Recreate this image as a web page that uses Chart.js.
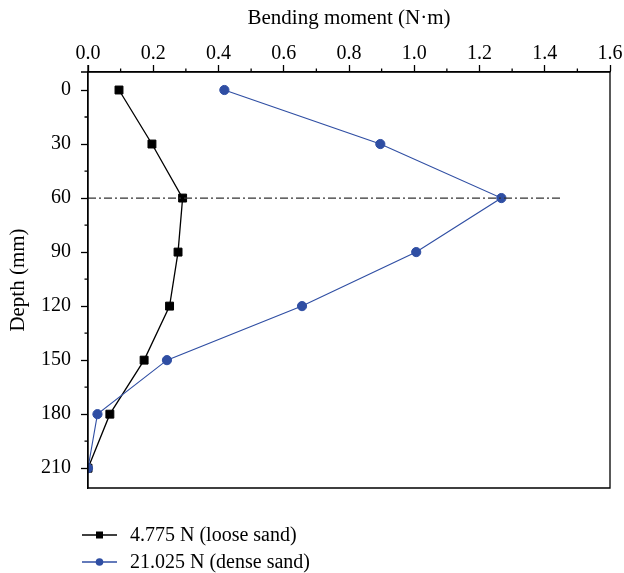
<!DOCTYPE html>
<html>
<head>
<meta charset="utf-8">
<script src="https://cdn.jsdelivr.net/npm/chart.js@4.4.1/dist/chart.umd.min.js"></script>
<style>
  html, body { margin: 0; padding: 0; background: #fff; }
  canvas { display: block; }
</style>
</head>
<body>
<canvas id="chart" width="624" height="573"></canvas>
<script>
// depth (mm) vs bending moment (N·m)
const depths = [0, 30, 60, 90, 120, 150, 180, 210];
const looseMoment = [0.095, 0.196, 0.29, 0.276, 0.25, 0.172, 0.067, 0];
const denseMoment = [0.418, 0.896, 1.267, 1.006, 0.656, 0.242, 0.029, 0];
const refMoment = [0, 1.45];
const refDepth = [60, 60];

const xTicks = [0, 0.2, 0.4, 0.6, 0.8, 1.0, 1.2, 1.4, 1.6];
const yTicks = [0, 30, 60, 90, 120, 150, 180, 210];
const xMinor = [0.1, 0.3, 0.5, 0.7, 0.9, 1.1, 1.3, 1.5];
const yMinor = [15, 45, 75, 105, 135, 165, 195];

const seriesLabels = ["4.775 N (loose sand)", "21.025 N (dense sand)"];
const BLUE = "#2f4ea3";
const FONT = "'Liberation Serif', 'Times New Roman', serif";

const toPoints = (xs, ys) => xs.map((x, i) => ({ x: x, y: ys[i] }));

// frame, minor ticks and legend
const extras = {
  id: "extras",
  afterDraw(chart) {
    const { ctx, chartArea: a, scales } = chart;
    ctx.save();
    ctx.strokeStyle = "#000";
    ctx.lineWidth = 1.3;
    ctx.beginPath();
    ctx.moveTo(a.left - 7, a.top);
    ctx.lineTo(a.right, a.top);
    ctx.lineTo(a.right, a.bottom);
    ctx.lineTo(a.left, a.bottom);
    ctx.moveTo(a.left, a.top - 7);
    ctx.lineTo(a.left, a.bottom);
    xMinor.forEach(v => {
      const px = scales.x.getPixelForValue(v);
      ctx.moveTo(px, a.top);
      ctx.lineTo(px, a.top - 3.5);
    });
    yMinor.forEach(v => {
      const py = scales.y.getPixelForValue(v);
      ctx.moveTo(a.left, py);
      ctx.lineTo(a.left - 3.5, py);
    });
    ctx.stroke();

    // legend
    const rows = [
      { label: seriesLabels[0], color: "#000", shape: "rect", y: 535 },
      { label: seriesLabels[1], color: BLUE, shape: "circle", y: 562 }
    ];
    ctx.font = "20px " + FONT;
    ctx.textBaseline = "middle";
    rows.forEach(r => {
      ctx.strokeStyle = r.color;
      ctx.fillStyle = r.color;
      ctx.lineWidth = 1.4;
      ctx.beginPath();
      ctx.moveTo(82, r.y);
      ctx.lineTo(117, r.y);
      ctx.stroke();
      ctx.beginPath();
      if (r.shape === "rect") ctx.rect(96, r.y - 3.5, 7, 7);
      else ctx.arc(99.5, r.y, 3.8, 0, Math.PI * 2);
      ctx.fill();
      ctx.fillStyle = "#000";
      ctx.fillText(r.label, 130, r.y + 1);
    });
    ctx.restore();
  }
};

new Chart(document.getElementById("chart"), {
  type: "scatter",
  data: {
    datasets: [
      {
        label: "ref",
        data: toPoints(refMoment, refDepth),
        showLine: true,
        borderColor: "#333",
        borderWidth: 1.3,
        borderDash: [8, 3, 2, 3],
        pointRadius: 0
      },
      {
        label: seriesLabels[1],
        data: toPoints(denseMoment, depths),
        showLine: true,
        borderColor: BLUE,
        borderWidth: 1.1,
        backgroundColor: BLUE,
        pointBackgroundColor: BLUE,
        pointBorderColor: BLUE,
        pointStyle: "circle",
        pointRadius: 4.6,
        pointBorderWidth: 1
      },
      {
        label: seriesLabels[0],
        data: toPoints(looseMoment, depths),
        showLine: true,
        borderColor: "#000",
        borderWidth: 1.3,
        backgroundColor: "#000",
        pointBackgroundColor: "#000",
        pointBorderColor: "#000",
        pointStyle: "rect",
        pointRadius: 5.6,
        pointBorderWidth: 1
      }
    ]
  },
  options: {
    responsive: false,
    animation: false,
    devicePixelRatio: 1,
    layout: { padding: { top: 0, left: 0, right: 14, bottom: 85 } },
    plugins: {
      legend: { display: false },
      tooltip: { enabled: false }
    },
    scales: {
      x: {
        type: "linear",
        position: "top",
        min: 0,
        max: 1.6,
        afterBuildTicks: s => { s.ticks = xTicks.map(v => ({ value: v })); },
        afterFit: s => { s.height = 72; },
        ticks: {
          color: "#000",
          padding: -1,
          font: { family: FONT, size: 20 },
          callback: v => v.toFixed(1)
        },
        grid: {
          display: true,
          drawOnChartArea: false,
          drawTicks: true,
          tickLength: 7,
          tickColor: "#000",
          tickWidth: 1.3
        },
        border: { display: true, color: "#000", width: 1.3 },
        title: {
          display: true,
          text: "Bending moment (N·m)",
          color: "#000",
          font: { family: FONT, size: 21 },
          padding: { top: 6, bottom: 0 }
        }
      },
      y: {
        type: "linear",
        reverse: true,
        min: -10,
        max: 221,
        afterBuildTicks: s => { s.ticks = yTicks.map(v => ({ value: v })); },
        afterFit: s => { s.width = 88; },
        ticks: {
          color: "#000",
          padding: 10,
          font: { family: FONT, size: 20 }
        },
        grid: {
          display: true,
          drawOnChartArea: false,
          drawTicks: true,
          tickLength: 7,
          tickColor: "#000",
          tickWidth: 1.3
        },
        border: { display: true, color: "#000", width: 1.3 },
        title: {
          display: true,
          text: "Depth (mm)",
          color: "#000",
          font: { family: FONT, size: 21 },
          padding: { top: 6, bottom: 0 }
        }
      }
    }
  },
  plugins: [extras]
});
</script>
</body>
</html>
